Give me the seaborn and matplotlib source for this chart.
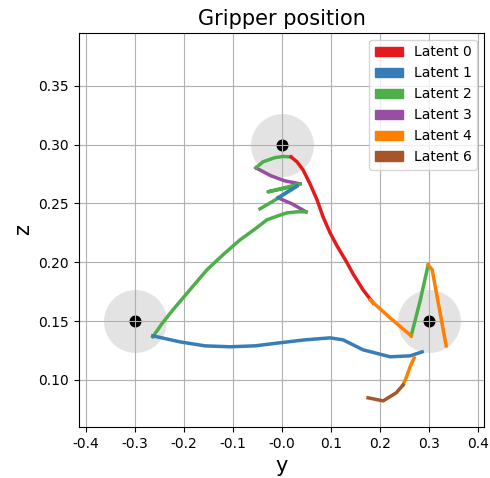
import numpy as np
import pandas as pd
import matplotlib
matplotlib.use('Agg')
import matplotlib.pyplot as plt
from matplotlib.patches import Patch
import seaborn as sns

# Goal positions (y, z)
goal_y = [-0.3, 0.0, 0.3]
goal_z = [0.15, 0.30, 0.15]

# Trajectory pieces, each tagged with its latent
top_arc_y = [-0.0531, -0.0388, -0.0143, 0.0020, 0.0184]
top_arc_z = [0.2803, 0.2854, 0.2890, 0.2900, 0.2896]

zig_purple_y = [0.0367, 0.0061, -0.0224, -0.0531]
zig_purple_z = [0.2667, 0.2692, 0.2735, 0.2803]

zig_green_y = [0.0367, -0.0286, 0.0306]
zig_green_z = [0.2667, 0.2599, 0.2650]

zig_blue_y = [0.0306, -0.0082]
zig_blue_z = [0.2650, 0.2548]

zig_purple2_y = [-0.0082, 0.0204, 0.0490]
zig_purple2_z = [0.2548, 0.2497, 0.2429]

zig_green2_y = [-0.0449, -0.0204, 0.0061, 0.0286]
zig_green2_z = [0.2454, 0.2514, 0.2582, 0.2641]

long_green_y = [0.0490, 0.0306, 0.0102, -0.0082, -0.0306, -0.0571, -0.0857,
                -0.1204, -0.1531, -0.1878, -0.2224, -0.2449, -0.2633]
long_green_z = [0.2429, 0.2429, 0.2420, 0.2395, 0.2361, 0.2276, 0.2190,
                0.2063, 0.1935, 0.1765, 0.1595, 0.1476, 0.1366]

red_y = [0.0184, 0.0306, 0.0429, 0.0571, 0.0714, 0.0837, 0.0980, 0.1122,
         0.1327, 0.1449, 0.1653, 0.1857]
red_z = [0.2896, 0.2854, 0.2786, 0.2667, 0.2531, 0.2386, 0.2250, 0.2139,
         0.1995, 0.1901, 0.1765, 0.1655]

orange1_y = [0.1796, 0.2204, 0.2633]
orange1_z = [0.1680, 0.1527, 0.1374]

green_up_y = [0.2633, 0.2816, 0.2980]
green_up_z = [0.1374, 0.1672, 0.1978]

orange2_y = [0.2980, 0.3061, 0.3347]
orange2_z = [0.1978, 0.1936, 0.1289]

blue_y = [-0.2633, -0.2082, -0.1571, -0.1061, -0.0551, -0.0041, 0.0469,
          0.0980, 0.1245, 0.1653, 0.2204, 0.2612, 0.2857]
blue_z = [0.1374, 0.1323, 0.1289, 0.1281, 0.1289, 0.1315, 0.1340,
          0.1357, 0.1340, 0.1255, 0.1196, 0.1204, 0.1238]

orange3_y = [0.2694, 0.2612, 0.2531, 0.2469]
orange3_z = [0.1187, 0.1111, 0.1017, 0.0957]

brown_y = [0.2469, 0.2327, 0.2061, 0.1755]
brown_z = [0.0957, 0.0889, 0.0821, 0.0847]

pieces = [
    ('Latent 3', zig_purple2_y, zig_purple2_z),
    ('Latent 2', zig_green2_y, zig_green2_z),
    ('Latent 1', zig_blue_y, zig_blue_z),
    ('Latent 2', zig_green_y, zig_green_z),
    ('Latent 3', zig_purple_y, zig_purple_z),
    ('Latent 2', top_arc_y, top_arc_z),
    ('Latent 2', long_green_y, long_green_z),
    ('Latent 0', red_y, red_z),
    ('Latent 4', orange1_y, orange1_z),
    ('Latent 2', green_up_y, green_up_z),
    ('Latent 4', orange2_y, orange2_z),
    ('Latent 1', blue_y, blue_z),
    ('Latent 4', orange3_y, orange3_z),
    ('Latent 6', brown_y, brown_z),
]

latents = ['Latent 0', 'Latent 1', 'Latent 2', 'Latent 3', 'Latent 4', 'Latent 6']
set1 = sns.color_palette('Set1', 9)
palette = dict(zip(latents, [set1[0], set1[1], set1[2], set1[3], set1[4], set1[6]]))

rows = []
for i, (lat, ys, zs) in enumerate(pieces):
    for y, z in zip(ys, zs):
        rows.append({'y': y, 'z': z, 'latent': lat, 'segment': i})
df = pd.DataFrame(rows)

fig = plt.figure(figsize=(4.9, 4.78), dpi=100)
ax = fig.add_axes([0.161, 0.107, 0.827, 0.824])

# Goal regions
sns.scatterplot(x=goal_y, y=goal_z, s=2050, color='gray', alpha=0.22,
                linewidth=0, ax=ax, zorder=1)
sns.scatterplot(x=goal_y, y=goal_z, s=75, color='black', linewidth=0,
                ax=ax, zorder=1)

sns.lineplot(data=df, x='y', y='z', hue='latent', units='segment',
             estimator=None, sort=False, palette=palette, linewidth=2.5,
             legend=False, ax=ax)

ax.grid(True, color='#b0b0b0', linewidth=0.8)
ax.set_xlim(-0.414, 0.412)
ax.set_ylim(0.060, 0.395)
ax.set_xticks(np.arange(-0.4, 0.41, 0.1))
ax.set_yticks([0.10, 0.15, 0.20, 0.25, 0.30, 0.35])
ax.xaxis.set_major_formatter(matplotlib.ticker.FormatStrFormatter('%.1f'))
ax.yaxis.set_major_formatter(matplotlib.ticker.FormatStrFormatter('%.2f'))
ax.tick_params(labelsize=10)
ax.set_xlabel('y', fontsize=15)
ax.set_ylabel('z', fontsize=15)
ax.set_title('Gripper position', fontsize=15)

handles = [Patch(color=palette[l], label=l) for l in latents]
ax.legend(handles=handles, loc='upper right', fontsize=10)

fig.savefig('out.png', dpi=100)
